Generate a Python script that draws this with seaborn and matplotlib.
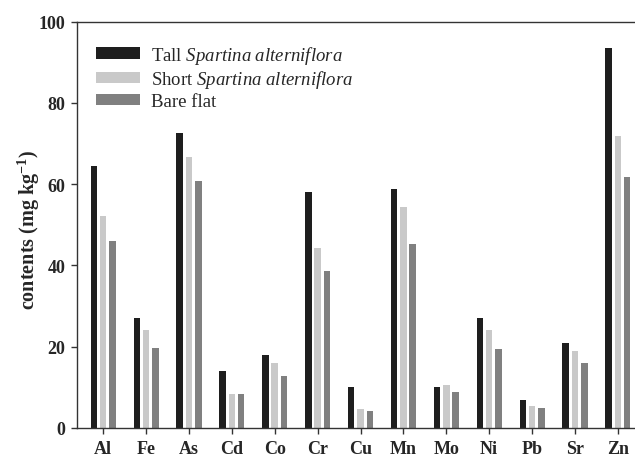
import matplotlib
matplotlib.use("Agg")
import matplotlib.pyplot as plt
import seaborn as sns
import pandas as pd

elements = ["Al", "Fe", "As", "Cd", "Co", "Cr", "Cu", "Mn", "Mo", "Ni", "Pb", "Sr", "Zn"]
tall = [64.5, 27.0, 72.7, 14.1, 18.0, 58.1, 10.0, 58.9, 10.0, 27.1, 6.9, 20.8, 93.4]
short = [52.2, 24.1, 66.6, 8.4, 16.1, 44.4, 4.6, 54.5, 10.7, 24.1, 5.4, 18.9, 71.8]
bare = [45.9, 19.6, 60.7, 8.4, 12.7, 38.6, 4.1, 45.3, 8.8, 19.4, 5.0, 16.1, 61.7]

groups = [r"Tall $\it{Spartina\ alterniflora}$",
          r"Short $\it{Spartina\ alterniflora}$",
          "Bare flat"]
colors = ["#1e1e1e", "#c9c9c9", "#808080"]

df = pd.DataFrame({
    "element": elements * 3,
    "value": tall + short + bare,
    "group": [groups[0]] * len(elements) + [groups[1]] * len(elements) + [groups[2]] * len(elements),
})

sns.set_style("white")
plt.rcParams["font.family"] = ["Liberation Serif", "DejaVu Serif"]
plt.rcParams["mathtext.fontset"] = "custom"
plt.rcParams["mathtext.rm"] = "Liberation Serif"
plt.rcParams["mathtext.it"] = "Liberation Serif:italic"
plt.rcParams["mathtext.bf"] = "Liberation Serif:bold"

fig = plt.figure(figsize=(6.35, 4.6), dpi=100)
ax = fig.add_axes([0.1213, 0.0674, 0.8787, 0.8833])

sns.barplot(data=df, x="element", y="value", hue="group", order=elements,
            hue_order=groups, palette=colors, width=0.65, gap=0.3,
            linewidth=0, errorbar=None, ax=ax)

ax.set_ylim(0, 100)
ax.set_xlim(-0.61, 12.4)
ax.set_yticks([0, 20, 40, 60, 80, 100])
ax.set_xlabel("")
ax.set_ylabel(r"contents (mg kg$^{\mathbf{-1}}$)", fontsize=14.5, fontweight="bold")
ax.yaxis.set_label_coords(-0.062, 0.49)

for side in ["left", "bottom", "top"]:
    ax.spines[side].set_visible(True)
    ax.spines[side].set_color("#333333")
    ax.spines[side].set_linewidth(1.0)
ax.spines["right"].set_visible(False)

ax.tick_params(axis="both", direction="out", length=4.5, width=1.0, color="#333333",
               labelsize=13, pad=4, left=True, bottom=True)
for lab in ax.get_xticklabels() + ax.get_yticklabels():
    lab.set_fontweight("bold")

ax.legend(loc="upper left", bbox_to_anchor=(0.034, 0.946), frameon=False,
          fontsize=13.5, handlelength=2.35, handleheight=0.55, handletextpad=0.57,
          labelspacing=0.14, borderaxespad=0, borderpad=0)

fig.savefig("out.png", dpi=100)
